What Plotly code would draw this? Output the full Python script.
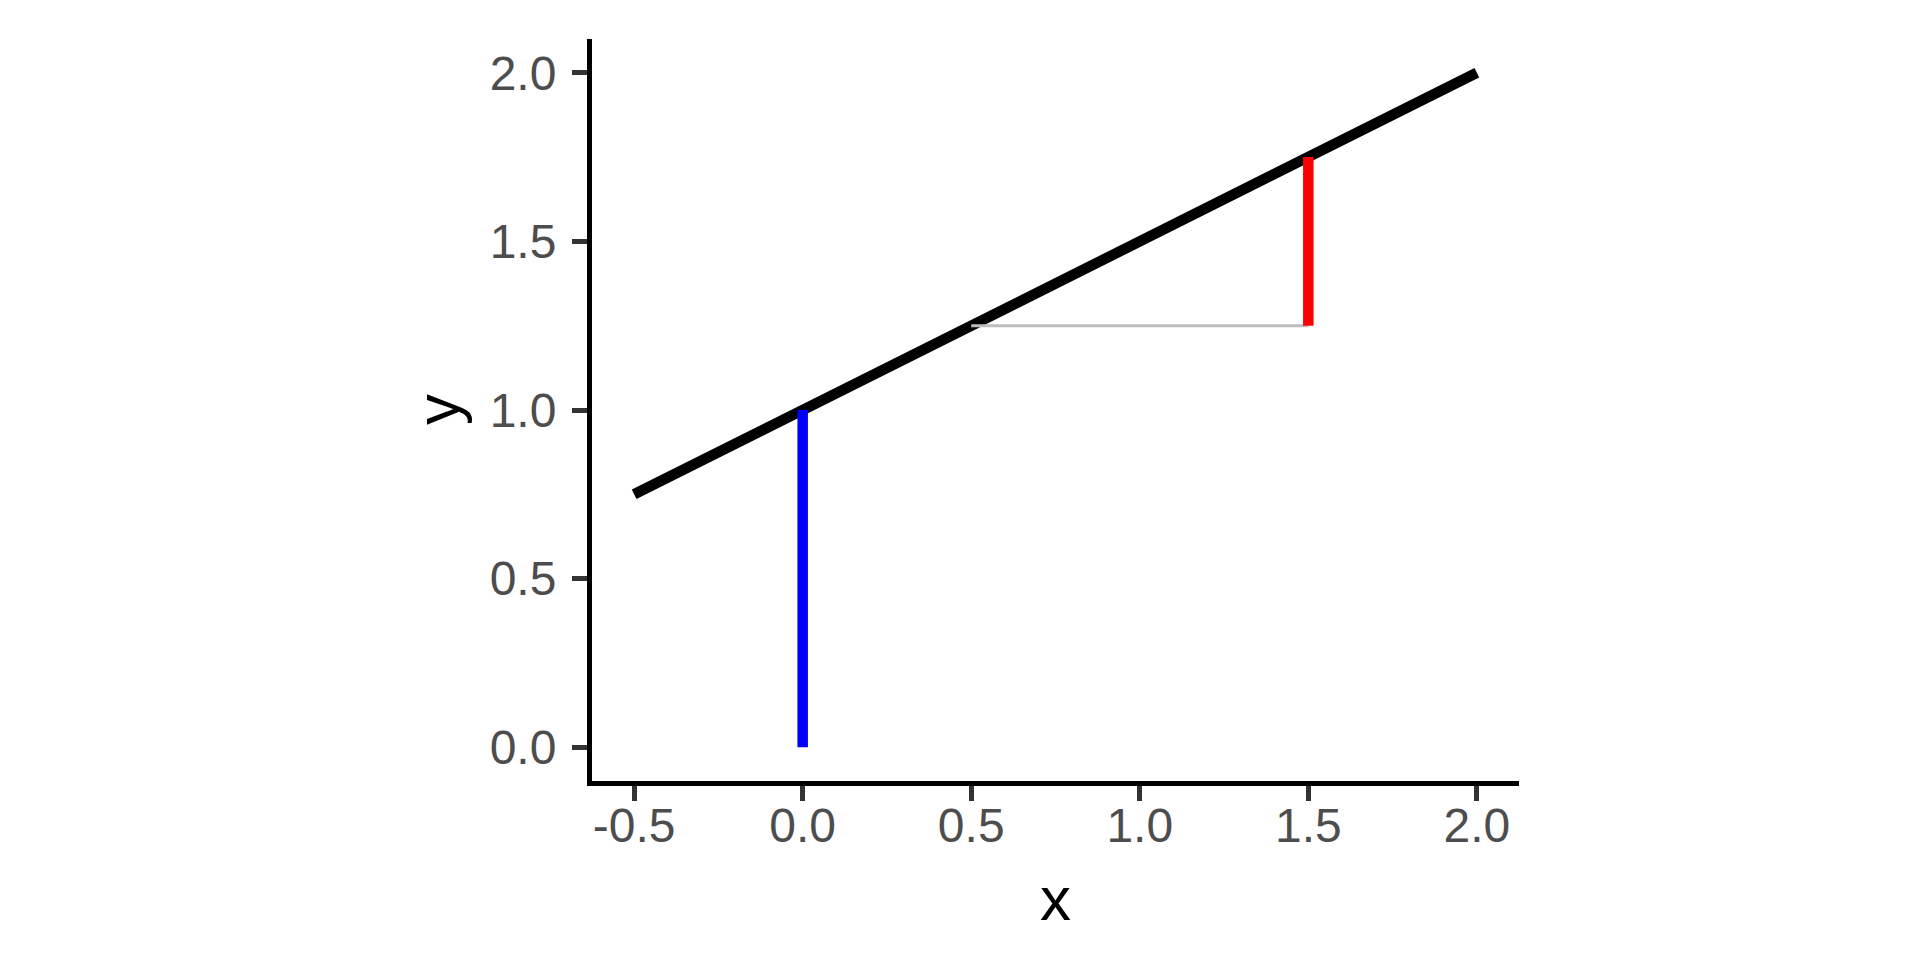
import plotly.graph_objects as go

# data
line_x = [-0.5, 2.0]
line_y = [0.75, 2.0]
blue_x = [0.0, 0.0]
blue_y = [0.0, 1.0]
red_x = [1.5, 1.5]
red_y = [1.25, 1.75]
grey_x = [0.5, 1.5]
grey_y = [1.25, 1.25]
x_ticks = [-0.5, 0.0, 0.5, 1.0, 1.5, 2.0]
x_labels = ["-0.5", "0.0", "0.5", "1.0", "1.5", "2.0"]
y_ticks = [0.0, 0.5, 1.0, 1.5, 2.0]
y_labels = ["0.0", "0.5", "1.0", "1.5", "2.0"]

FONT = "Liberation Sans"
W, H = 1920, 960
L, R, T, B = 584, 409, 31, 187

fig = go.Figure()
fig.add_trace(go.Scatter(x=line_x, y=line_y, mode="lines",
                         line=dict(color="black", width=10.5), hoverinfo="skip"))
fig.add_trace(go.Scatter(x=grey_x, y=grey_y, mode="lines",
                         line=dict(color="#BEBEBE", width=3), hoverinfo="skip"))
fig.add_trace(go.Scatter(x=blue_x, y=blue_y, mode="lines",
                         line=dict(color="blue", width=10.5), hoverinfo="skip"))
fig.add_trace(go.Scatter(x=red_x, y=red_y, mode="lines",
                         line=dict(color="red", width=10.5), hoverinfo="skip"))

axis_common = dict(
    showgrid=False, zeroline=False, showline=True, linecolor="black", linewidth=5,
    ticks="outside", ticklen=15, tickwidth=5, tickcolor="#333333",
    tickfont=dict(family=FONT, size=48, color="#4D4D4D"),
)
fig.update_xaxes(range=[-0.625, 2.125], tickvals=x_ticks, ticktext=x_labels,
                 ticklabelstandoff=-17, **axis_common)
fig.update_yaxes(range=[-0.1, 2.1], tickvals=y_ticks, ticktext=y_labels,
                 ticklabelstandoff=6, **axis_common)

pw = W - L - R
ph = H - T - B
fig.add_annotation(text="x", xref="paper", yref="paper", x=0.5, y=(773 - 890.5) / ph,
                   xanchor="center", yanchor="middle", showarrow=False,
                   font=dict(family=FONT, size=62, color="black"))
fig.add_annotation(text="y", xref="paper", yref="paper", x=(429 - L) / pw, y=0.5,
                   xanchor="center", yanchor="middle", showarrow=False, textangle=-90,
                   font=dict(family=FONT, size=62, color="black"))

fig.update_layout(
    width=W, height=H, autosize=False,
    margin=dict(l=L, r=R, t=T, b=B, pad=0),
    paper_bgcolor="white", plot_bgcolor="white",
    showlegend=False,
)
fig.write_html("out.html")
